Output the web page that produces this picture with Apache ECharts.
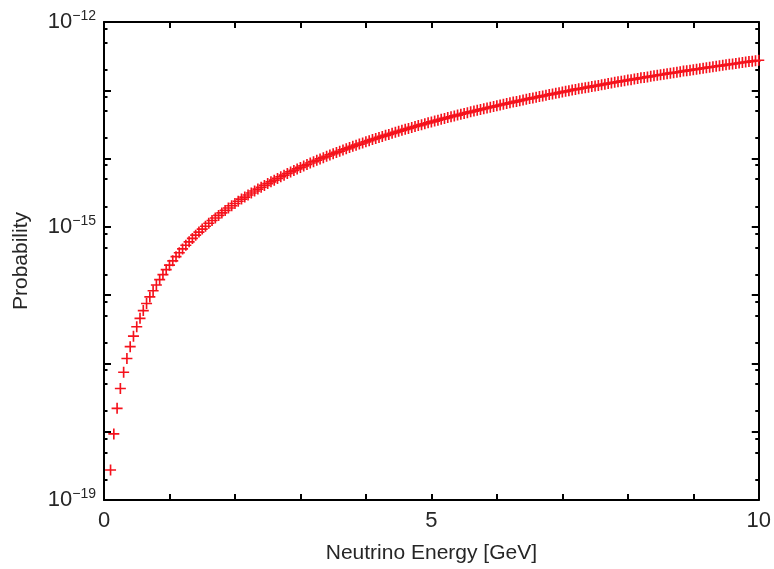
<!DOCTYPE html>
<html>
<head>
<meta charset="utf-8">
<script src="https://cdn.jsdelivr.net/npm/echarts@6/dist/echarts.min.js"></script>
<style>html,body{margin:0;padding:0;background:#fff}#c{width:774px;height:569px}</style>
</head>
<body>
<div id="c"></div>
<script>
var energy = [0.1,0.15,0.2,0.25,0.3,0.35,0.4,0.45,0.5,0.55,0.6,0.65,0.7,0.75,0.8,0.85,0.9,0.95,1,
1.05,1.1,1.15,1.2,1.25,1.3,1.35,1.4,1.45,1.5,1.55,1.6,1.65,1.7,1.75,1.8,1.85,1.9,1.95,2,
2.05,2.1,2.15,2.2,2.25,2.3,2.35,2.4,2.45,2.5,2.55,2.6,2.65,2.7,2.75,2.8,2.85,2.9,2.95,3,
3.05,3.1,3.15,3.2,3.25,3.3,3.35,3.4,3.45,3.5,3.55,3.6,3.65,3.7,3.75,3.8,3.85,3.9,3.95,4,
4.05,4.1,4.15,4.2,4.25,4.3,4.35,4.4,4.45,4.5,4.55,4.6,4.65,4.7,4.75,4.8,4.85,4.9,4.95,5,
5.05,5.1,5.15,5.2,5.25,5.3,5.35,5.4,5.45,5.5,5.55,5.6,5.65,5.7,5.75,5.8,5.85,5.9,5.95,6,
6.05,6.1,6.15,6.2,6.25,6.3,6.35,6.4,6.45,6.5,6.55,6.6,6.65,6.7,6.75,6.8,6.85,6.9,6.95,7,
7.05,7.1,7.15,7.2,7.25,7.3,7.35,7.4,7.45,7.5,7.55,7.6,7.65,7.7,7.75,7.8,7.85,7.9,7.95,8,
8.05,8.1,8.15,8.2,8.25,8.3,8.35,8.4,8.45,8.5,8.55,8.6,8.65,8.7,8.75,8.8,8.85,8.9,8.95,9,
9.05,9.1,9.15,9.2,9.25,9.3,9.35,9.4,9.45,9.5,9.55,9.6,9.65,9.7,9.75,9.8,9.85,9.9,9.95,10];

var probability = [2.75e-19,9.28e-19,2.20e-18,4.30e-18,7.43e-18,1.18e-17,1.76e-17,2.51e-17,3.44e-17,4.58e-17,5.94e-17,7.55e-17,9.43e-17,1.16e-16,1.41e-16,1.69e-16,2.00e-16,2.36e-16,2.75e-16,
3.18e-16,3.66e-16,4.18e-16,4.75e-16,5.37e-16,6.04e-16,6.77e-16,7.55e-16,8.38e-16,9.28e-16,1.02e-15,1.13e-15,1.24e-15,1.35e-15,1.47e-15,1.60e-15,1.74e-15,1.89e-15,2.04e-15,2.20e-15,
2.37e-15,2.55e-15,2.73e-15,2.93e-15,3.13e-15,3.35e-15,3.57e-15,3.80e-15,4.04e-15,4.30e-15,4.56e-15,4.83e-15,5.12e-15,5.41e-15,5.72e-15,6.04e-15,6.37e-15,6.71e-15,7.06e-15,7.43e-15,
7.80e-15,8.19e-15,8.60e-15,9.01e-15,9.44e-15,9.88e-15,1.03e-14,1.08e-14,1.13e-14,1.18e-14,1.23e-14,1.28e-14,1.34e-14,1.39e-14,1.45e-14,1.51e-14,1.57e-14,1.63e-14,1.69e-14,1.76e-14,
1.83e-14,1.90e-14,1.97e-14,2.04e-14,2.11e-14,2.19e-14,2.26e-14,2.34e-14,2.42e-14,2.51e-14,2.59e-14,2.68e-14,2.76e-14,2.86e-14,2.95e-14,3.04e-14,3.14e-14,3.24e-14,3.34e-14,3.44e-14,
3.54e-14,3.65e-14,3.76e-14,3.87e-14,3.98e-14,4.09e-14,4.21e-14,4.33e-14,4.45e-14,4.58e-14,4.70e-14,4.83e-14,4.96e-14,5.09e-14,5.23e-14,5.37e-14,5.51e-14,5.65e-14,5.79e-14,5.94e-14,
6.09e-14,6.24e-14,6.40e-14,6.55e-14,6.71e-14,6.88e-14,7.04e-14,7.21e-14,7.38e-14,7.55e-14,7.73e-14,7.91e-14,8.09e-14,8.27e-14,8.46e-14,8.65e-14,8.84e-14,9.03e-14,9.23e-14,9.43e-14,
9.64e-14,9.84e-14,1.01e-13,1.03e-13,1.05e-13,1.07e-13,1.09e-13,1.11e-13,1.14e-13,1.16e-13,1.18e-13,1.21e-13,1.23e-13,1.26e-13,1.28e-13,1.31e-13,1.33e-13,1.36e-13,1.38e-13,1.41e-13,
1.43e-13,1.46e-13,1.49e-13,1.52e-13,1.54e-13,1.57e-13,1.60e-13,1.63e-13,1.66e-13,1.69e-13,1.72e-13,1.75e-13,1.78e-13,1.81e-13,1.84e-13,1.87e-13,1.91e-13,1.94e-13,1.97e-13,2.00e-13,
2.04e-13,2.07e-13,2.11e-13,2.14e-13,2.18e-13,2.21e-13,2.25e-13,2.28e-13,2.32e-13,2.36e-13,2.40e-13,2.43e-13,2.47e-13,2.51e-13,2.55e-13,2.59e-13,2.63e-13,2.67e-13,2.71e-13,2.75e-13];

var xTickLabels = [0, 5, 10];
var yLabelExponents = [-19, -15, -12];
var yMinorMantissas = [2, 5, 8];
var yDecades = [-19, -18, -17, -16, -15, -14, -13];

var FONT = '"Liberation Sans", Arial, Helvetica, sans-serif';
var TXT = '#262626';

var minorTickPos = [];
yDecades.forEach(function (d) {
  yMinorMantissas.forEach(function (m) { minorTickPos.push(d + Math.log10(m)); });
});

var data = energy.map(function (e, i) { return [e, probability[i]]; });

var axisLine = { show: true, lineStyle: { color: '#000', width: 2 } };

function yMajor(pos, showLabel) {
  return {
    type: 'log', logBase: 10, position: pos, min: 1e-19, max: 1e-12,
    axisLine: axisLine,
    axisTick: { show: true, inside: true, length: 7, lineStyle: { color: '#000', width: 2 } },
    splitLine: { show: false },
    minorTick: { show: false },
    axisLabel: showLabel ? {
      show: true, margin: 8, color: TXT, fontFamily: FONT,
      formatter: function (v) {
        var e = Math.round(Math.log10(v));
        if (yLabelExponents.indexOf(e) < 0) return '';
        return '{b|10}{s|\u2212' + Math.abs(e) + '}';
      },
      rich: {
        b: { fontSize: 22, lineHeight: 26, fontFamily: FONT, color: TXT },
        s: { fontSize: 14, lineHeight: 14, verticalAlign: 'top', fontFamily: FONT, color: TXT }
      }
    } : { show: false },
    name: showLabel ? 'Probability' : '',
    nameLocation: 'middle', nameGap: 72,
    nameTextStyle: { fontSize: 21, fontFamily: FONT, color: TXT }
  };
}
function yMinor(pos) {
  return {
    type: 'value', position: pos, min: -19, max: -12,
    axisLine: { show: false },
    axisTick: { show: true, inside: true, length: 3.5, customValues: minorTickPos, lineStyle: { color: '#000', width: 2 } },
    axisLabel: { show: false },
    splitLine: { show: false }
  };
}
function xAx(pos, showLabel) {
  return {
    type: 'value', position: pos, min: 0, max: 10, interval: 1,
    axisLine: axisLine,
    axisTick: { show: true, inside: true, length: 6, lineStyle: { color: '#000', width: 2 } },
    splitLine: { show: false },
    axisLabel: showLabel ? {
      show: true, margin: 10, fontSize: 22, fontFamily: FONT, color: TXT,
      formatter: function (v) { return xTickLabels.indexOf(v) >= 0 ? String(v) : ''; }
    } : { show: false },
    name: showLabel ? 'Neutrino Energy [GeV]' : '',
    nameLocation: 'middle', nameGap: 43,
    nameTextStyle: { fontSize: 21, fontFamily: FONT, color: TXT }
  };
}

var chart = echarts.init(document.getElementById('c'), null, { renderer: 'canvas' });
chart.setOption({
  animation: false,
  backgroundColor: '#fff',
  grid: { left: 104, right: 12, top: 22, bottom: 65, containLabel: false },
  xAxis: [xAx('bottom', true), xAx('top', false)],
  yAxis: [yMajor('left', true), yMinor('left'), yMajor('right', false), yMinor('right')],
  series: [{
    type: 'scatter', xAxisIndex: 0, yAxisIndex: 0,
    data: data,
    symbol: 'path://M0,4.25H10V5.75H0Z M4.25,0H5.75V10H4.25Z',
    symbolSize: 11,
    itemStyle: { color: '#f5121c', opacity: 1 },
    clip: false
  }]
});
</script>
</body>
</html>
